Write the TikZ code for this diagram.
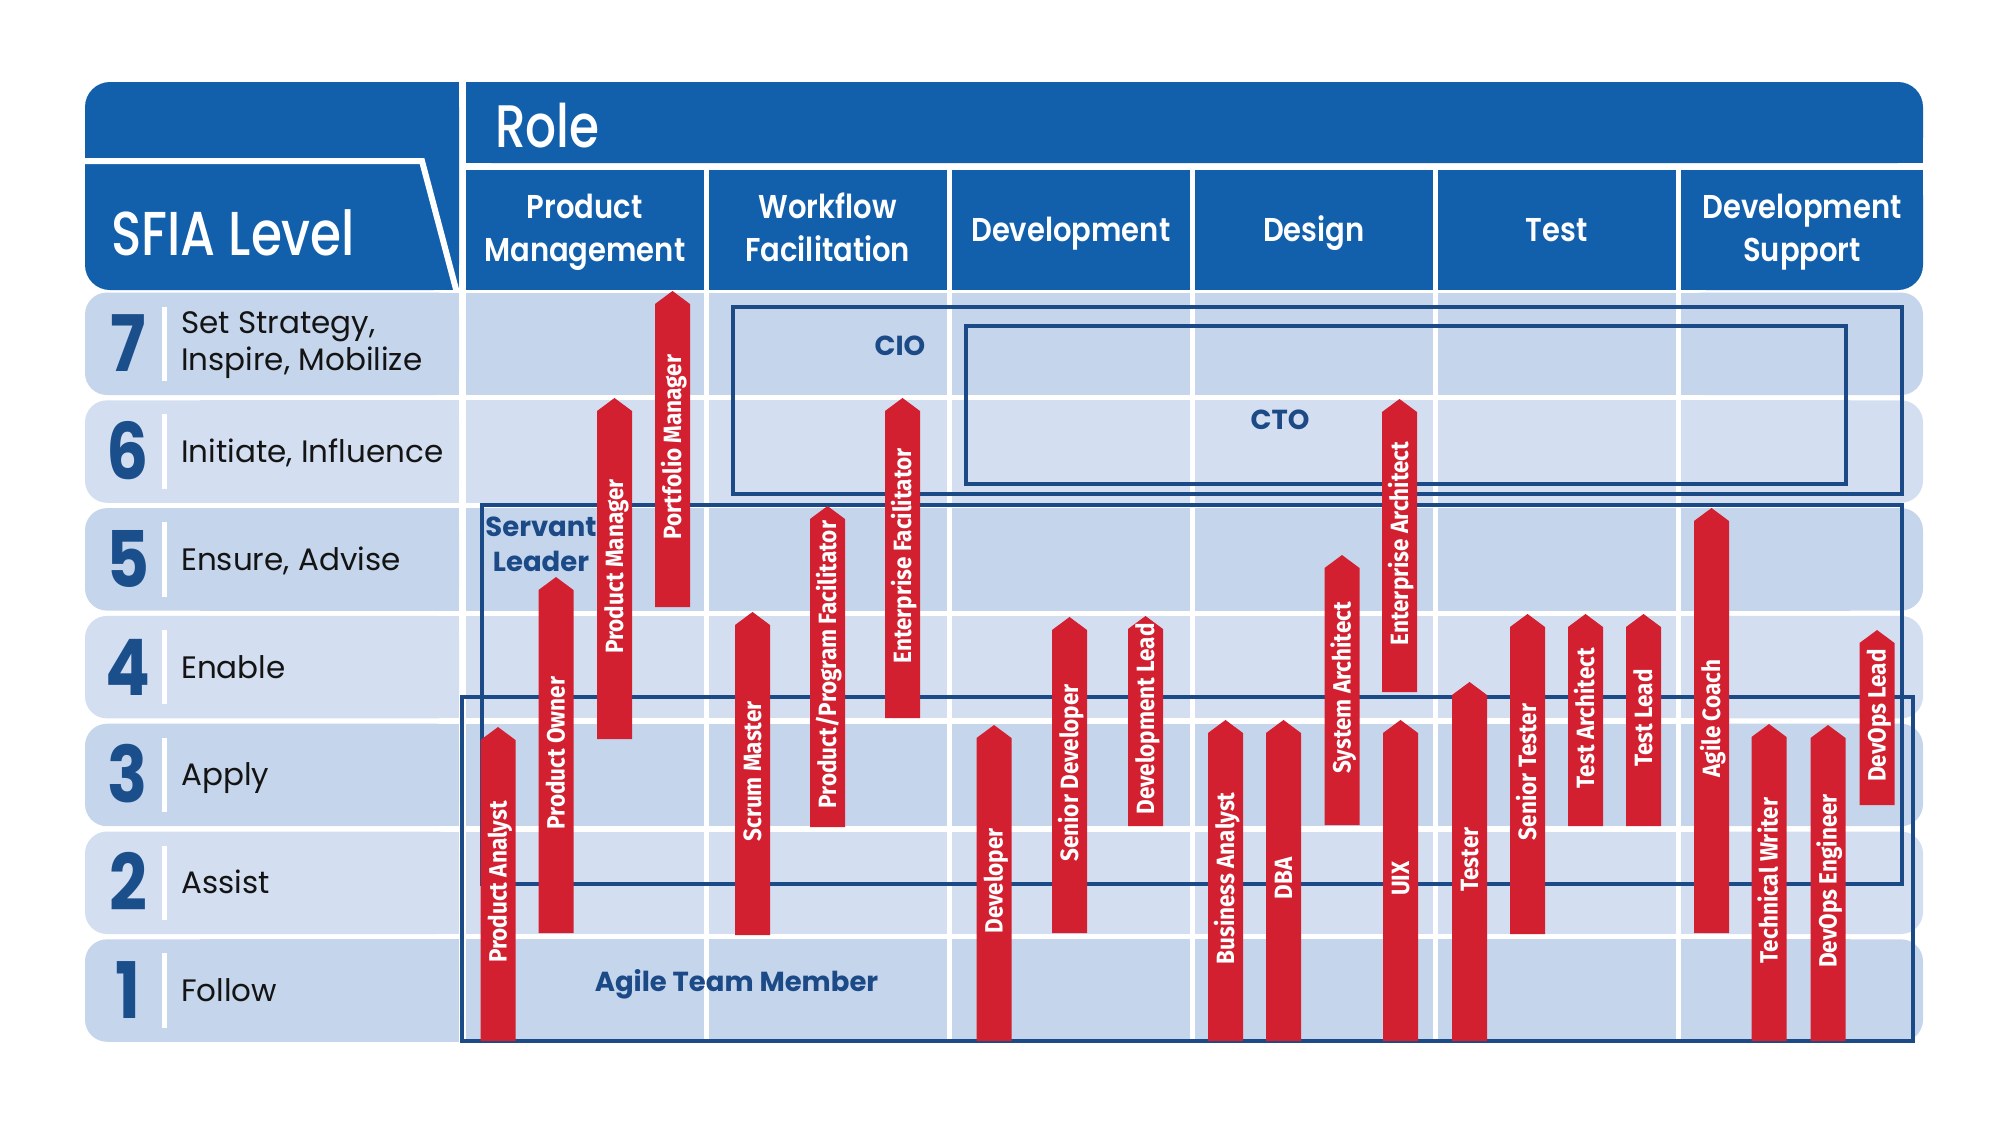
\documentclass[tikz,border=0pt]{standalone}
\usepackage{fontspec}
\setmainfont{Poppins}
\newfontfamily\hdrfont[FakeStretch=0.81]{Poppins Medium}
\newfontfamily\colfont[FakeStretch=0.88]{Poppins SemiBold}
\newfontfamily\numfont[FakeStretch=0.85]{Poppins}
\newfontfamily\barfont[FakeStretch=0.9]{Fira Sans}
\definecolor{hdrblue}{RGB}{18,96,172}
\definecolor{rowA}{RGB}{197,213,236}
\definecolor{rowB}{RGB}{211,222,240}
\definecolor{navy}{RGB}{27,74,135}
\definecolor{numblue}{RGB}{27,79,140}
\definecolor{barcol}{RGB}{210,32,48}
\definecolor{lblblack}{RGB}{20,20,20}
\tikzset{
 boxline/.style={draw=navy, line width=4.5pt},
 rowlbl/.style={anchor=base west, inner sep=0pt, text=lblblack, font=\fontsize{31}{37}\selectfont},
 numlbl/.style={anchor=base, inner sep=0pt, text=numblue, font=\numfont\bfseries\fontsize{78}{80}\selectfont},
 hdrtxt/.style={anchor=base, inner sep=0pt, text=white, font=\colfont\fontsize{33}{40}\selectfont},
 boxlbl/.style={anchor=base, inner sep=0pt, text=navy, font=\bfseries\fontsize{27.5}{33}\selectfont},
 bartxt/.style={rotate=90, anchor=center, inner sep=0pt, text=white, text height=17pt, text depth=0pt, font=\barfont\bfseries\fontsize{25}{27}\selectfont},
}
\newcommand\mkbar[5]{%
 \fill[barcol] ({#2-17.5},#4) -- ({#2-17.5},{#3+13}) -- (#2,#3) -- ({#2+17.5},{#3+13}) -- ({#2+17.5},#4) -- cycle;
 \node[bartxt] (#1) at (#2,{(#3+#4)/2-2}) {#5};
}
\begin{document}
\begin{tikzpicture}[x=1pt,y=-1pt]
\useasboundingbox (0,0) rectangle (2000,1125);
% ---------- header ----------
\fill[hdrblue, rounded corners=25pt] (85,82) rectangle (459,290);
\fill[hdrblue] (250,82) rectangle (459,290);
\draw[white, line width=6pt] (80,161) -- (422,161) -- (457,293);
\fill[hdrblue, rounded corners=25pt] (466,82) rectangle (1923,163);
\fill[hdrblue] (466,82) rectangle (1850,163);
\fill[hdrblue] (466,120) rectangle (1923,163);
\foreach \i in {0,...,4} \fill[hdrblue] ({466+\i*243},170) rectangle ({466+\i*243+237.5},290);
\fill[hdrblue, rounded corners=25pt] (1681,170) rectangle (1923,290);
\fill[hdrblue] (1681,170) rectangle (1850,290);
\fill[hdrblue] (1681,170) rectangle (1923,230);
\node[hdrtxt, anchor=base west, font=\hdrfont\fontsize{60}{70}\selectfont] (role) at (495,147) {Role};
\node[hdrtxt, anchor=base west, font=\hdrfont\fontsize{62}{70}\selectfont] (sfia) at (111,255) {SFIA Level};
\node[hdrtxt] (c1a) at (584.75,218) {Product};
\node[hdrtxt] (c1b) at (584.75,261) {Management};
\node[hdrtxt] (c2a) at (827.75,218) {Workflow};
\node[hdrtxt] (c2b) at (827.75,261) {Facilitation};
\node[hdrtxt] (c3) at (1070.75,241) {Development};
\node[hdrtxt] (c4) at (1313.75,241) {Design};
\node[hdrtxt] (c5) at (1556.75,241) {Test};
\node[hdrtxt] (c6a) at (1802,218) {Development};
\node[hdrtxt] (c6b) at (1802,261) {Support};
% ---------- rows ----------
\foreach \t/\c in {292.5/rowA, 400.3/rowB, 508.1/rowA, 615.9/rowB, 723.7/rowA, 831.5/rowB, 939.3/rowA}{
 \pgfmathsetmacro\b{\t+102.5}
 \fill[\c, rounded corners=22pt] (85,\t) rectangle (459,\b);
 \fill[\c] (200,\t) rectangle (459,\b);
 \foreach \i in {0,...,4} \fill[\c] ({466+\i*243},\t) rectangle ({466+\i*243+237.5},\b);
 \fill[\c, rounded corners=22pt] (1681,\t) rectangle (1923,\b);
 \fill[\c] (1681,\t) rectangle (1850,\b);
 \fill[white] (162,{\t+14}) rectangle (167,{\b-14});
}
\node[numlbl] (n7) at (128,371.75) {7};
\node[numlbl] (n6) at (128,479.55) {6};
\node[numlbl] (n5) at (128,587.35) {5};
\node[numlbl] (n4) at (128,695.15) {4};
\node[numlbl] (n3) at (128,802.95) {3};
\node[numlbl] (n2) at (128,910.75) {2};
\node[numlbl] (n1) at (128,1018.55) {1};
\node[rowlbl] (l7a) at (181,333) {Set Strategy,};
\node[rowlbl] (l7b) at (181,370) {Inspire, Mobilize};
\node[rowlbl] (l6) at (181,462.5) {Initiate, Influence};
\node[rowlbl] (l5) at (181,570.3) {Ensure, Advise};
\node[rowlbl] (l4) at (181,678.1) {Enable};
\node[rowlbl] (l3) at (181,785.9) {Apply};
\node[rowlbl] (l2) at (181,893.7) {Assist};
\node[rowlbl] (l1) at (181,1001.5) {Follow};
% ---------- group boxes ----------
\draw[boxline] (733,307) rectangle (1902,494);
\draw[boxline] (966,326) rectangle (1846,484);
\draw[boxline] (482,505) rectangle (1902,884);
\draw[boxline] (462,697) rectangle (1913,1041);
\node[boxlbl] (cio) at (900,355) {CIO};
\node[boxlbl] (cto) at (1280,429) {CTO};
\node[boxlbl] (sl1) at (541,536) {Servant};
\node[boxlbl] (sl2) at (541,571) {Leader};
\node[boxlbl] (atm) at (736.5,991) {Agile Team Member};
% ---------- role bars ----------
\mkbar{pa}{498}{727}{1041}{Product Analyst}
\mkbar{po}{556}{577}{933}{Product Owner}
\mkbar{pmgr}{614.5}{398}{739}{Product Manager}
\mkbar{pfm}{672.5}{291}{607}{Portfolio Manager}
\mkbar{sm}{752.5}{612}{935}{Scrum Master}
\mkbar{ppf}{827.5}{506}{827}{Product/Program Facilitator}
\mkbar{ef}{902.5}{398}{718}{Enterprise Facilitator}
\mkbar{dev}{994}{725}{1041}{Developer}
\mkbar{sdev}{1069.5}{617}{933}{Senior Developer}
\mkbar{dlead}{1145.5}{616}{826}{Development Lead}
\mkbar{ba}{1225.5}{720}{1041}{Business Analyst}
\mkbar{dba}{1283.5}{720}{1041}{DBA}
\mkbar{sa}{1342}{555}{825}{System Architect}
\mkbar{ea}{1399.5}{399}{692}{Enterprise Architect}
\mkbar{uix}{1400.5}{720}{1041}{UIX}
\mkbar{tester}{1469.5}{682}{1041}{Tester}
\mkbar{stester}{1527.5}{614}{934}{Senior Tester}
\mkbar{tarch}{1585.5}{614}{826}{Test Architect}
\mkbar{tlead}{1643.5}{614}{826}{Test Lead}
\mkbar{ac}{1711.5}{508}{933}{Agile Coach}
\mkbar{tw}{1769}{724}{1041}{Technical Writer}
\mkbar{doe}{1828}{725}{1041}{DevOps Engineer}
\mkbar{dol}{1877}{630}{805}{DevOps Lead}
\end{tikzpicture}
\end{document}
